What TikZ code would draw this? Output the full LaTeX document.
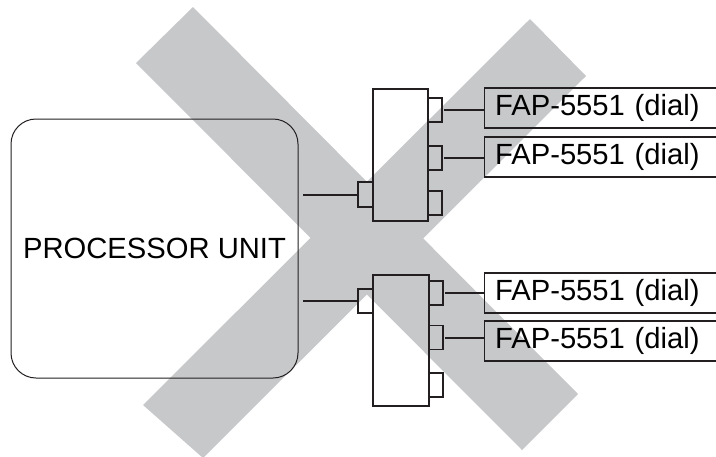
\documentclass[tikz,border=0pt]{standalone}
\usepackage{fontspec}
\setmainfont{Liberation Sans}
\usepackage{tikz}
\usetikzlibrary{positioning}
\definecolor{XGray}{RGB}{199,200,202}
\definecolor{InkDark}{RGB}{35,31,32}

\begin{document}
\begin{tikzpicture}[
    x=1pt, y=-1pt,
    band/.style={fill=XGray},
    unit/.style={
      draw=InkDark,
      line width=1pt,
      rounded corners=25pt,
      minimum width=287pt,
      minimum height=259pt,
      font=\fontsize{29.2}{34}\selectfont
    },
    hub/.style={draw=InkDark, line width=1.2pt, inner sep=0pt},
    port/.style={draw=InkDark, line width=1.2pt, inner sep=0pt,
      minimum width=14pt, minimum height=24pt},
    fap/.style={
      draw=InkDark,
      line width=1.2pt,
      anchor=west,
      minimum height=40pt,
      inner xsep=10.5pt,
      text width=234pt,
      align=left,
      font=\fontsize{29.2}{34}\selectfont
    },
    link/.style={draw=InkDark, line width=2pt}
  ]
    \clip (0,0) rectangle (716,456);

    % the cross
    \fill[band] (136,63) -- (193,7) -- (578,394) -- (522,450) -- cycle;
    \fill[band] (530,19) -- (586,76) -- (203,458) -- (143,405) -- cycle;

    \node[unit] (pu) at (154.5,248.5) {PROCESSOR UNIT};

    % upper hub
    \node[hub, minimum width=55pt, minimum height=132pt] (hubA) at (400.5,155) {};
    \node[port, minimum width=15pt, minimum height=25pt] (pA0) at (365.5,194.5) {};
    \node[port] (pA1) at (435,110) {};
    \node[port] (pA2) at (435,158) {};
    \node[port] (pA3) at (435,203) {};

    % lower hub
    \node[hub, minimum width=56pt, minimum height=131pt] (hubB) at (401,340.5) {};
    \node[port, minimum width=15pt] (pB0) at (365.5,301) {};
    \node[port] (pB1) at (436,293) {};
    \node[port] (pB2) at (436,337.5) {};
    \node[port] (pB3) at (436,385) {};

    \node[fap] (fapA1) at (484,108) {FAP-5551 (dial)};
    \node[fap] (fapA2) at (484,157) {FAP-5551 (dial)};
    \node[fap] (fapB1) at (484,293) {FAP-5551 (dial)};
    \node[fap] (fapB2) at (484,341) {FAP-5551 (dial)};

    \draw[link, shorten >=4pt] (pA0.west) -- (pA0.west -| pu.east);
    \draw[link, shorten >=4pt] (pB0.west) -- (pB0.west -| pu.east);
    \draw[link, shorten <=1.5pt] (pA1.east) -- (pA1.east -| fapA1.west);
    \draw[link, shorten <=1.5pt] (pA2.east) -- (pA2.east -| fapA2.west);
    \draw[link, shorten <=1.5pt] (pB1.east) -- (pB1.east -| fapB1.west);
    \draw[link, shorten <=1.5pt] (pB2.east) -- (pB2.east -| fapB2.west);
  \end{tikzpicture}
\end{document}
